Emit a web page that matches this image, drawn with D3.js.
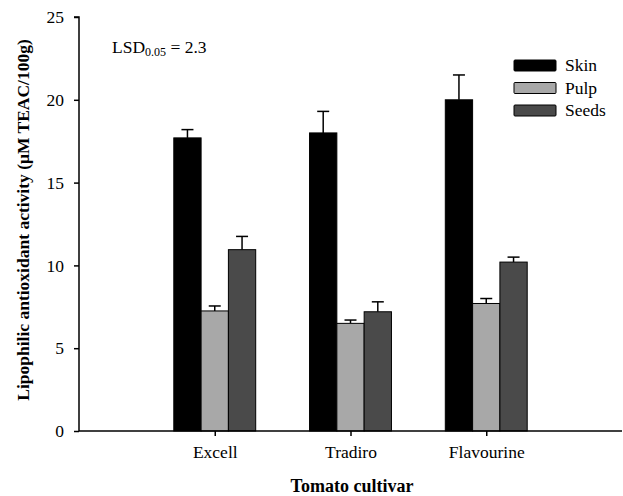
<!DOCTYPE html>
<html><head><meta charset="utf-8">
<script src="https://cdn.jsdelivr.net/npm/d3@7"></script>
<style>body{margin:0;background:#fff}svg{display:block}</style>
</head><body>
<script>
const categories = ["Excell", "Tradiro", "Flavourine"];
const seriesNames = ["Skin", "Pulp", "Seeds"];
const skin = [17.7, 18.0, 20.0];
const pulp = [7.25, 6.5, 7.7];
const seeds = [10.95, 7.2, 10.2];
const skinErr = [0.5, 1.3, 1.5];
const pulpErr = [0.3, 0.2, 0.3];
const seedsErr = [0.8, 0.6, 0.3];
const yTicks = [0, 5, 10, 15, 20, 25];
const colors = ["#000000", "#a8a8a8", "#4a4a4a"];

const W = 623, H = 496;
const svg = d3.select("body").append("svg").attr("width", W).attr("height", H);
const font = "'Liberation Serif', 'Times New Roman', serif";
const fs = 17.5;

const x = d3.scaleLinear().domain([0, 4]).range([79, 622]);
const y = d3.scaleLinear().domain([0, 25]).range([431, 17]);
const barW = 27.3;

const values = [skin, pulp, seeds];
const errs = [skinErr, pulpErr, seedsErr];

// bars
values.forEach((vals, s) => {
  const g = svg.append("g");
  vals.forEach((v, i) => {
    const cx = x(i + 1);
    const x0 = cx - 1.5 * barW + s * barW;
    const xm = x0 + barW / 2;
    g.append("line").attr("x1", xm).attr("x2", xm)
      .attr("y1", y(v)).attr("y2", y(v + errs[s][i]))
      .attr("stroke", "#000").attr("stroke-width", 1.5);
    g.append("line").attr("x1", xm - 6).attr("x2", xm + 6)
      .attr("y1", y(v + errs[s][i])).attr("y2", y(v + errs[s][i]))
      .attr("stroke", "#000").attr("stroke-width", 1.5);
    g.append("rect").attr("x", x0).attr("y", y(v))
      .attr("width", barW).attr("height", y(0) - y(v))
      .attr("fill", colors[s]).attr("stroke", "#000").attr("stroke-width", 1);
  });
});

// y axis
const yAxis = svg.append("g").attr("transform", "translate(79,0)")
  .call(d3.axisLeft(y).tickValues(yTicks).tickSize(5).tickPadding(10));
yAxis.select(".domain").attr("stroke-width", 1.5).attr("d", `M-5,${y(25)}H0V${y(0)}`);
yAxis.selectAll(".tick line").attr("stroke-width", 1.5);
yAxis.selectAll("text").attr("font-family", font).attr("font-size", fs).attr("fill", "#000");

// x axis
const xAxis = svg.append("g").attr("transform", `translate(0,${y(0)})`)
  .call(d3.axisBottom(x).tickValues([1, 2, 3]).tickFormat(d => categories[d - 1]).tickSize(5).tickPadding(10));
xAxis.select(".domain").attr("stroke-width", 1.5).attr("d", `M79,0H622`);
xAxis.selectAll(".tick line").attr("stroke-width", 1.5);
xAxis.selectAll("text").attr("font-family", font).attr("font-size", fs).attr("fill", "#000");

// axis titles
svg.append("text").attr("x", 352).attr("y", 492).attr("text-anchor", "middle")
  .attr("font-family", font).attr("font-size", 18).attr("font-weight", "bold")
  .text("Tomato cultivar");
svg.append("text").attr("transform", `translate(29,220) rotate(-90)`)
  .attr("text-anchor", "middle")
  .attr("font-family", font).attr("font-size", fs).attr("font-weight", "bold")
  .text("Lipophilic antioxidant activity (\u03bcM TEAC/100g)");

// LSD annotation
const lsd = svg.append("text").attr("x", 112).attr("y", 53)
  .attr("font-family", font).attr("font-size", fs);
lsd.append("tspan").text("LSD");
lsd.append("tspan").attr("font-size", 12).attr("dy", 3).text("0.05");
lsd.append("tspan").attr("dy", -3).text(" = 2.3");

// legend
const leg = svg.append("g");
seriesNames.forEach((n, i) => {
  const ly = 60 + i * 22.5;
  leg.append("rect").attr("x", 514).attr("y", ly).attr("width", 42).attr("height", 11)
    .attr("fill", colors[i]).attr("stroke", "#000").attr("stroke-width", 1).attr("rx", 1);
  leg.append("text").attr("x", 565).attr("y", ly + 11).attr("font-family", font)
    .attr("font-size", fs).text(n);
});
</script>
</body></html>
